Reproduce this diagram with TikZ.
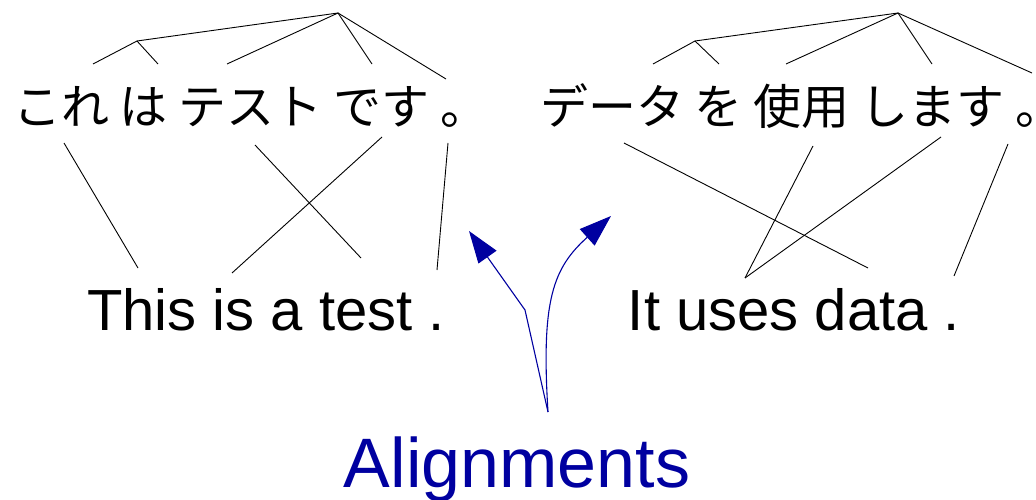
\documentclass[tikz,border=0pt]{standalone}
\usepackage{fontspec}
\setmainfont{Liberation Sans}
\newfontfamily\jpfont{Noto Sans CJK JP}
\usetikzlibrary{arrows.meta}
\definecolor{alblue}{RGB}{0,0,160}
\begin{document}
\begin{tikzpicture}[x=1pt,y=-1pt,
  tree/.style={line width=0.9pt},
  link/.style={line width=0.9pt},
  jp/.style={font=\jpfont\fontsize{48}{54}\selectfont, inner sep=0pt, anchor=base west},
  en/.style={font=\fontsize{58}{66}\selectfont, inner sep=0pt, anchor=base},
  arr/.style={draw=alblue, line width=1.1pt, -{Triangle[length=32pt,width=22pt,fill=alblue]}}]
\useasboundingbox (0,0) rectangle (1036,500);
% texts
\node[jp] (jpA) at (13,125) {これ は テスト です \makebox[0.45em][l]{。}};
\node[jp] (jpB) at (540,125) {データ を 使用 します \makebox[0.45em][l]{。}};
\node[en] (enA) at (266,330) {This is a test .};
\node[en] (enB) at (794,330) {It uses data .};
\node[font=\fontsize{70}{80}\selectfont, text=alblue, inner sep=0pt, anchor=base] (lbl) at (517,487) {Alignments};
% left tree
\coordinate (rA) at (338,13);
\coordinate (iA) at (137,41);
\coordinate (a1) at (93,64);
\coordinate (a2) at (158,64);
\coordinate (a3) at (227,64);
\coordinate (a4) at (372,64);
\coordinate (a5) at (446,79);
\draw[tree] (a1) -- (iA) -- (a2);
\draw[tree] (iA) -- (rA);
\draw[tree] (a3) -- (rA) -- (a4);
\draw[tree] (rA) -- (a5);
% right tree
\coordinate (rB) at (898,13);
\coordinate (iB) at (695,41);
\coordinate (b1) at (653,64);
\coordinate (b2) at (719,64);
\coordinate (b3) at (786,64);
\coordinate (b4) at (932,64);
\coordinate (b5) at (1032,73);
\draw[tree] (b1) -- (iB) -- (b2);
\draw[tree] (iB) -- (rB);
\draw[tree] (b3) -- (rB) -- (b4);
\draw[tree] (rB) -- (b5);
% left alignments
\coordinate (kore) at (64,143);   \coordinate (this) at (138,268);
\coordinate (tesuto) at (255,145); \coordinate (test) at (361,258);
\coordinate (desu) at (382,137);  \coordinate (is) at (232,273);
\coordinate (maruA) at (448,143); \coordinate (dotA) at (437,270);
\draw[link] (kore) -- (this);
\draw[link] (tesuto) -- (test);
\draw[link] (desu) -- (is);
\draw[link] (maruA) -- (dotA);
% right alignments
\coordinate (deta) at (624,143);  \coordinate (data) at (868,268);
\coordinate (shiyou) at (813,146); \coordinate (uses) at (745,278);
\coordinate (shimasu) at (941,137);
\coordinate (maruB) at (1008,144); \coordinate (dotB) at (954,276);
\draw[link] (deta) -- (data);
\draw[link] (shiyou) -- (uses);
\draw[link] (shimasu) -- (uses);
\draw[link] (maruB) -- (dotB);
% arrows
\coordinate (src) at (548,412);
\coordinate (kink) at (525,310);
\coordinate (tipL) at (469,231);
\coordinate (tipR) at (611,216);
\draw[arr] (src) -- (kink) -- (tipL);
\draw[arr] (src) .. controls (541,300) and (553,268) .. (tipR);
\end{tikzpicture}
\end{document}
